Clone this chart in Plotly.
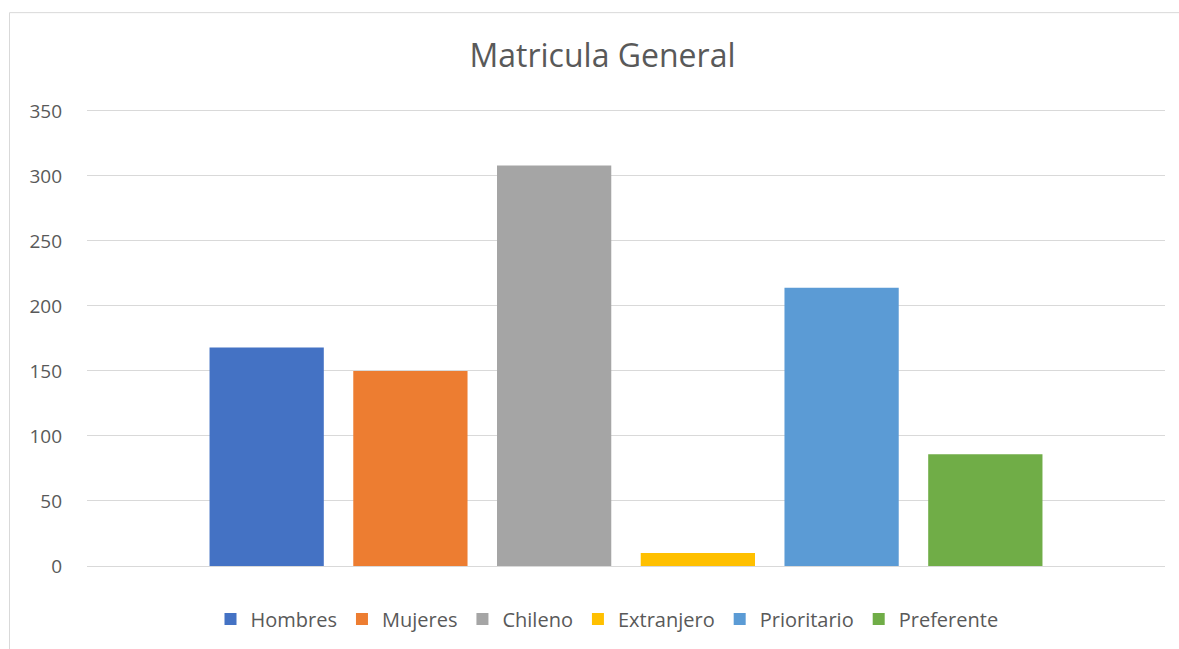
import plotly.graph_objects as go

categories = ["Matricula"]
series_names = ["Hombres", "Mujeres", "Chileno", "Extranjero", "Prioritario", "Preferente"]
series_values = [168, 150, 308, 10, 214, 86]
colors = ["#4472C4", "#ED7D31", "#A5A5A5", "#FFC000", "#5B9BD5", "#70AD47"]
y_ticks = [0, 50, 100, 150, 200, 250, 300, 350]

fig = go.Figure()
for name, val, col in zip(series_names, series_values, colors):
    fig.add_trace(go.Bar(x=categories, y=[val], name=name, marker=dict(color=col, line=dict(width=0))))

W, H = 1179, 649
ymax = 351.5
L, R, B = 87, 14, 82
ph = (567 - 111) * ymax / 350
T = H - B - ph
pw = W - L - R

fig.update_layout(
    width=W, height=H,
    margin=dict(l=L, r=R, t=T, b=B),
    paper_bgcolor="white", plot_bgcolor="white",
    barmode="group", bargap=0.2, bargroupgap=0.205,
    font=dict(family="Open Sans, sans-serif", color="#595959"),
    title=dict(text="Matricula General", x=602.5 / W, xanchor="center", y=1 - 56 / H, yanchor="middle",
               font=dict(size=32, color="#595959")),
    legend=dict(orientation="h", x=(607 - L) / pw, xanchor="center", y=-(619 - 567) / ph, yanchor="middle",
                font=dict(size=20, color="#595959"), itemwidth=30, traceorder="normal"),
    xaxis=dict(showticklabels=False, showgrid=False, zeroline=False, showline=False, ticks=""),
    yaxis=dict(range=[0, ymax], tickvals=y_ticks, showgrid=True, gridcolor="#D9D9D9", gridwidth=1,
               zeroline=True, zerolinecolor="#D9D9D9", zerolinewidth=1, showline=False, ticks="",
               tickfont=dict(size=19, color="#595959"), ticklabelstandoff=24),
    shapes=[dict(type="rect", xref="paper", yref="paper",
                 x0=(9.5 - L) / pw, x1=(W + 10 - L) / pw,
                 y0=-(B + 10) / ph, y1=(H - B - 12.5) / ph,
                 line=dict(color="#D9D9D9", width=1), fillcolor="rgba(0,0,0,0)", layer="below")],
)

fig.write_html("out.html", config={"displayModeBar": False},
               post_script="document.body.style.margin='0';document.body.style.overflow='hidden';")
